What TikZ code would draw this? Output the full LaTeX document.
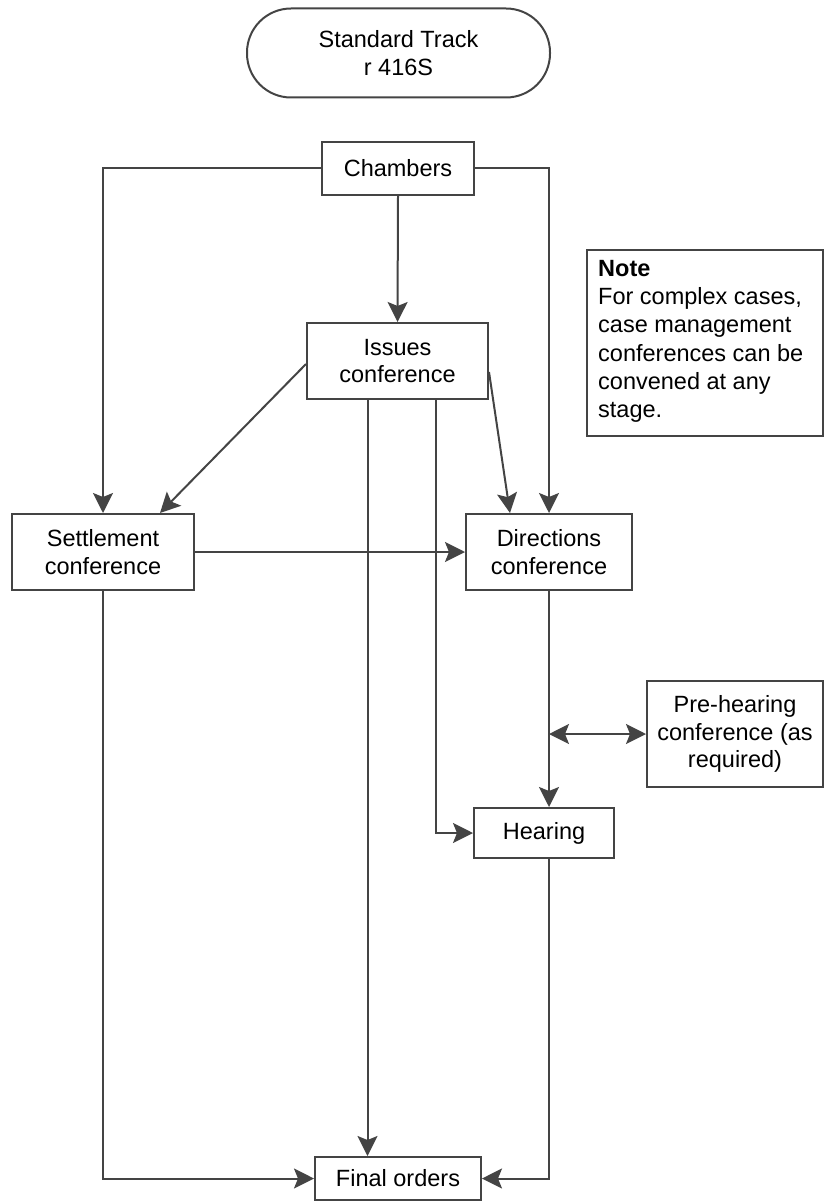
\documentclass[tikz,border=0pt]{standalone}
\usepackage{fontspec}
\setmainfont{Liberation Sans}
\usetikzlibrary{arrows.meta,calc}
\definecolor{ln}{HTML}{444444}
\begin{document}
\begin{tikzpicture}[x=1pt,y=-1pt,
  box/.style={draw=ln,line width=2pt,rectangle,inner sep=0pt,align=center,
    font=\fontsize{23.5}{27.5}\selectfont,text=black},
  conn/.style={draw=ln,line width=2pt,-{Stealth[length=20pt,width=20pt,inset=4pt]}},
  conn2/.style={draw=ln,line width=2pt,{Stealth[length=20pt,width=20pt,inset=4pt]}-{Stealth[length=20pt,width=20pt,inset=4pt]}}]
\useasboundingbox (0,0) rectangle (824,1201);
\node[box,minimum width=303pt,minimum height=89pt,rounded corners=44pt] (start) at (398.5,53) {Standard Track\\r 416S};
\node[box,minimum width=152pt,minimum height=53pt] (ch) at (398,168.5) {Chambers};
\node[box,minimum width=181pt,minimum height=76pt] (iss) at (397.5,361) {Issues\\conference};
\node[box,minimum width=182pt,minimum height=76pt] (set) at (103,552) {Settlement\\conference};
\node[box,minimum width=166pt,minimum height=76pt] (dir) at (549,552) {Directions\\conference};
\node[box,minimum width=176pt,minimum height=106pt] (pre) at (735,734) {Pre-hearing\\conference (as\\required)};
\node[box,minimum width=140pt,minimum height=50pt] (hear) at (544,833) {Hearing};
\node[box,minimum width=166pt,minimum height=43pt] (fin) at (398,1178.5) {Final orders};
\node[box,minimum width=236pt,minimum height=186pt] (note) at (705,343) {};
\node[anchor=north west,inner sep=0pt,align=left,text=black,
  font=\fontsize{23.5}{28.3}\selectfont] (notetext) at (598,260)
  {\textbf{Note}\\For complex cases,\\case management\\conferences can be\\convened at any\\stage.};
% connectors
\draw[conn] (ch.south) -- (iss.north);
\draw[conn] (ch.west) -| (set.north);
\draw[conn] (ch.east) -| (dir.north);
\draw[conn] ([yshift=-3pt]iss.west) -- ([xshift=57pt]set.north);
\draw[conn] ([yshift=-11pt]iss.east) -- ([xshift=-39pt]dir.north);
\draw[conn] ([xshift=-30pt]iss.south) coordinate (a) -- (a |- fin.north);
\draw[conn] ([xshift=38.5pt]iss.south) |- (hear.west);
\draw[conn] (set.east) -- (dir.west);
\draw[conn] (set.south) |- (fin.west);
\draw[conn] (dir.south) -- (dir.south |- hear.north);
\draw[conn2] (dir.south |- pre.west) -- (pre.west);
\draw[conn] (dir.south |- hear.south) |- (fin.east);
\end{tikzpicture}
\end{document}
